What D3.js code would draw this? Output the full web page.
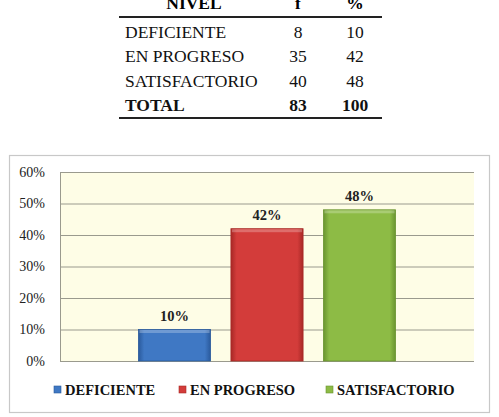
<!DOCTYPE html>
<html>
<head>
<meta charset="utf-8">
<script src="https://cdn.jsdelivr.net/npm/d3@7"></script>
<style>
  html,body{margin:0;padding:0;background:#fff;}
  svg, svg text{font-family:'Liberation Serif','DejaVu Serif',serif;}
</style>
</head>
<body>
<div id="chart"></div>
<script>
/* nivel table + column chart */

const NIVELES  = ["DEFICIENTE","EN PROGRESO","SATISFACTORIO"];
const FREQ     = [8,35,40];
const PCT      = [10,42,48];
const TOTAL    = ["TOTAL",83,100];
const HEADERS  = ["NIVEL","f","%"];
const Y_TICKS  = [0,10,20,30,40,50,60];
const COLORS   = ["#3f78c4","#d33c3a","#8dbb45"];
const DARK     = ["#2a5a9c","#a82826","#6a9430"];
const FONT     = "'Liberation Serif','DejaVu Serif',serif";

const W = 499, H = 417;
const svg = d3.select("#chart").append("svg").attr("width",W).attr("height",H)
  .attr("font-family",FONT);

/* ---------- table ---------- */
const colX = [125, 298, 355];          // text anchors: left, middle, middle
const rowY = d3.scalePoint().domain(d3.range(4)).range([32,105]);
const tbl = svg.append("g");

// header sits partly above the page edge, as in the source image
tbl.selectAll("text.hd").data(HEADERS).enter().append("text")
  .attr("x",(d,i)=>i===0?194:colX[i]).attr("y",9)
  .attr("text-anchor","middle").attr("font-weight","bold").attr("font-size",17.5)
  .text(d=>d);

tbl.append("line").attr("x1",119).attr("x2",382).attr("y1",17).attr("y2",17)
  .attr("stroke","#222").attr("stroke-width",2.2);
tbl.append("line").attr("x1",119).attr("x2",382).attr("y1",118).attr("y2",118)
  .attr("stroke","#222").attr("stroke-width",2.2);

const rows = NIVELES.map((n,i)=>[n,FREQ[i],PCT[i]]).concat([TOTAL]);
const tr = tbl.selectAll("g.row").data(rows).enter().append("g")
  .attr("class","row")
  .attr("transform",(d,i)=>`translate(0,${rowY(i)+6})`)
  .attr("font-weight",(d,i)=>i===3?"bold":"normal");
tr.selectAll("text").data(d=>d).enter().append("text")
  .attr("x",(d,j)=>colX[j]).attr("y",0)
  .attr("text-anchor",(d,j)=>j===0?"start":"middle")
  .attr("font-size",17.5).attr("fill","#111")
  .text(d=>d);

/* ---------- chart frame ---------- */
svg.append("rect").attr("x",9.5).attr("y",155.5).attr("width",480).attr("height",257)
  .attr("fill","#fff").attr("stroke","#c8c8c8").attr("stroke-width",1.2);

const P = {left:60, right:474, top:172, bottom:361};
const y = d3.scaleLinear().domain([0,60]).range([P.bottom,P.top]);
const x0 = d3.scaleBand().domain(["g"]).range([P.left,P.right]).paddingOuter(0.305);
const x1 = d3.scaleBand().domain(NIVELES).range([x0("g"),x0("g")+x0.bandwidth()]).paddingInner(0.22);

svg.append("rect").attr("x",P.left).attr("y",P.top)
  .attr("width",P.right-P.left).attr("height",P.bottom-P.top).attr("fill","#fefde6");

/* gridlines + y axis */
svg.append("g").selectAll("line").data(Y_TICKS).enter().append("line")
  .attr("x1",P.left).attr("x2",P.right)
  .attr("y1",d=>y(d)+0.5).attr("y2",d=>y(d)+0.5)
  .attr("stroke","#9a9a8e").attr("stroke-width",1);
svg.append("line").attr("x1",P.left+0.5).attr("x2",P.left+0.5)
  .attr("y1",P.top).attr("y2",P.bottom).attr("stroke","#9a9a8e");

const yAxis = d3.axisLeft(y).tickValues(Y_TICKS).tickFormat(d=>d+"%").tickSize(0).tickPadding(15);
svg.append("g").attr("transform",`translate(${P.left},0)`).call(yAxis)
  .attr("font-family",FONT).attr("font-size",14)
  .call(g=>g.select(".domain").remove())
  .selectAll("text").attr("fill","#222");

/* gradients for a bevelled look */
const defs = svg.append("defs");
NIVELES.forEach((n,i)=>{
  const g = defs.append("linearGradient").attr("id","gr"+i).attr("x1","0").attr("x2","1").attr("y1","0").attr("y2","0");
  g.append("stop").attr("offset","0").attr("stop-color",DARK[i]);
  g.append("stop").attr("offset","0.08").attr("stop-color",COLORS[i]);
  g.append("stop").attr("offset","0.92").attr("stop-color",COLORS[i]);
  g.append("stop").attr("offset","1").attr("stop-color",DARK[i]);
});

/* bars */
const bars = svg.append("g").selectAll("g").data(NIVELES).enter().append("g");
bars.append("rect")
  .attr("x",d=>x1(d)).attr("width",x1.bandwidth())
  .attr("y",(d,i)=>y(PCT[i])).attr("height",(d,i)=>y(0)-y(PCT[i]))
  .attr("fill",(d,i)=>`url(#gr${i})`).attr("stroke",(d,i)=>DARK[i]).attr("stroke-width",0.8);
bars.append("rect")
  .attr("x",d=>x1(d)+1).attr("width",x1.bandwidth()-2)
  .attr("y",(d,i)=>y(PCT[i])+0.5).attr("height",3)
  .attr("fill","#fff").attr("opacity",0.25);

/* value labels */
svg.append("g").selectAll("text").data(NIVELES).enter().append("text")
  .attr("x",d=>x1(d)+x1.bandwidth()/2)
  .attr("y",(d,i)=>y(PCT[i])-9)
  .attr("text-anchor","middle").attr("font-weight","bold").attr("font-size",14.5)
  .attr("fill","#222").text((d,i)=>PCT[i]+"%");

/* legend */
const legX = [54, 179, 326];
const leg = svg.append("g").selectAll("g").data(NIVELES).enter().append("g")
  .attr("transform",(d,i)=>`translate(${legX[i]},390)`);
leg.append("rect").attr("x",0).attr("y",-4).attr("width",7).attr("height",7)
  .attr("fill",(d,i)=>COLORS[i]).attr("stroke",(d,i)=>DARK[i]).attr("stroke-width",0.6);
leg.append("text").attr("x",11).attr("y",5).attr("font-weight","bold")
  .attr("font-size",14.5).attr("fill","#111").text(d=>d);
</script>
</body>
</html>
